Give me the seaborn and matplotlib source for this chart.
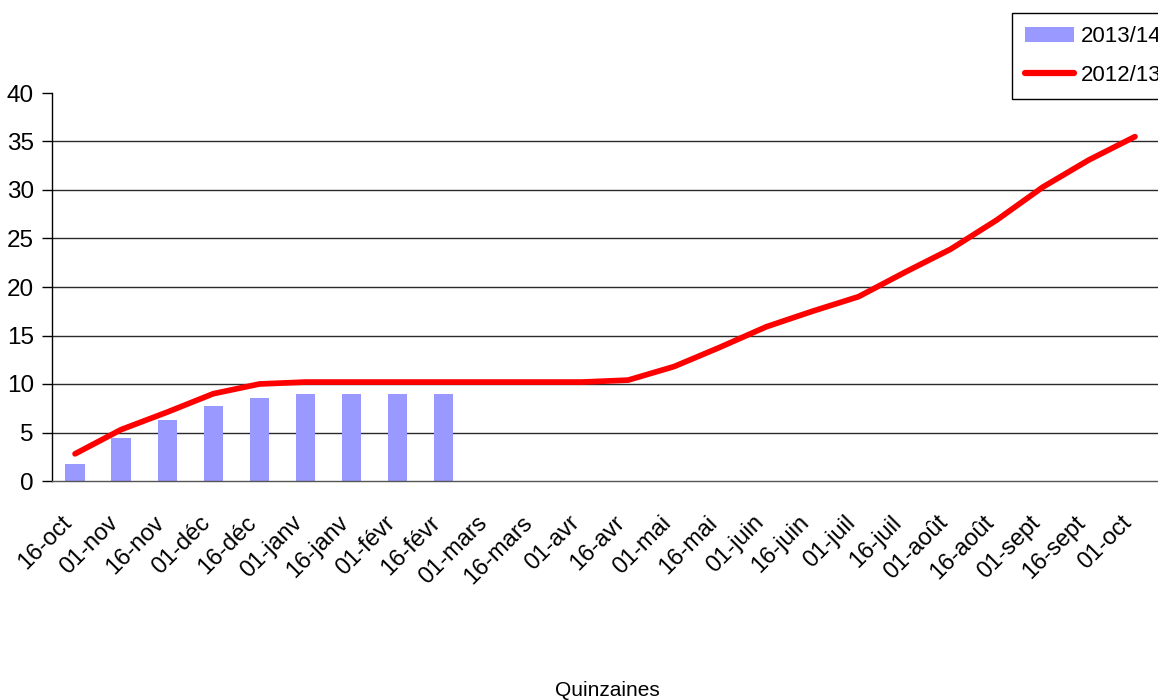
import numpy as np
import pandas as pd
import matplotlib
matplotlib.use("Agg")
import matplotlib.pyplot as plt
import matplotlib.transforms as mtransforms
import seaborn as sns
from matplotlib.lines import Line2D
from matplotlib.patches import Patch

categories = ["16-oct", "01-nov", "16-nov", "01-déc", "16-déc", "01-janv", "16-janv",
              "01-févr", "16-févr", "01-mars", "16-mars", "01-avr", "16-avr", "01-mai",
              "16-mai", "01-juin", "16-juin", "01-juil", "16-juil", "01-août", "16-août",
              "01-sept", "16-sept", "01-oct"]
bars_2013_14 = [1.8, 4.4, 6.3, 7.7, 8.6, 9.0, 9.0, 9.0, 9.0]
line_2012_13 = [2.8, 5.3, 7.1, 9.0, 10.0, 10.2, 10.2, 10.2, 10.2, 10.2, 10.2, 10.2,
                10.4, 11.8, 13.8, 15.9, 17.5, 19.0, 21.5, 23.9, 26.9, 30.3, 33.1, 35.5]
yticks = [0, 5, 10, 15, 20, 25, 30, 35, 40]

sns.set_style("white")
plt.rcParams["font.family"] = ["Liberation Sans", "DejaVu Sans"]
plt.rcParams["text.color"] = "black"
plt.rcParams["xtick.labelcolor"] = "black"
plt.rcParams["ytick.labelcolor"] = "black"

fig = plt.figure(figsize=(11.58, 7.0), dpi=100)
ax = fig.add_axes([52 / 1158, 1 - 481 / 700, 1 - 52 / 1158, (481 - 93) / 700])

bar_df = pd.DataFrame({"cat": categories[:len(bars_2013_14)], "val": bars_2013_14})
sns.barplot(data=bar_df, x="cat", y="val", order=categories, color="#9999FF",
            saturation=1, width=0.42, ax=ax, edgecolor="none", linewidth=0)

line_df = pd.DataFrame({"pos": np.arange(len(categories)), "val": line_2012_13})
sns.lineplot(data=line_df, x="pos", y="val", color="#FF0000", linewidth=4.1, ax=ax,
             solid_capstyle="round", solid_joinstyle="round")

ax.set_xlim(-0.5, len(categories) - 0.5)
ax.set_ylim(0, 40)
ax.set_yticks(yticks)
ax.set_yticklabels([str(v) for v in yticks])
for v in yticks[1:-1]:
    ax.axhline(v, color="#2a2a2a", linewidth=1.0, zorder=0)

ax.set_xticks(np.arange(len(categories)))
ax.set_xticklabels(categories, rotation=45, ha="right", rotation_mode="anchor")
ax.set_xticks(np.arange(len(categories) + 1) - 0.5, minor=True)
ax.tick_params(axis="x", which="major", length=0, pad=22, labelsize=17)
ax.tick_params(axis="x", which="minor", length=7, width=1, color="#555555", direction="out")
ax.tick_params(axis="y", which="major", length=7, width=1, color="black", direction="out",
               pad=6, labelsize=17.5, left=True)
offset = mtransforms.ScaledTranslation(-14 / 100, 0, fig.dpi_scale_trans)
for lab in ax.get_xticklabels():
    lab.set_transform(lab.get_transform() + offset)

for s in ["top", "right"]:
    ax.spines[s].set_visible(False)
ax.spines["left"].set_color("black")
ax.spines["left"].set_linewidth(1.0)
ax.spines["bottom"].set_color("#555555")
ax.spines["bottom"].set_linewidth(1.0)
ax.set_xlabel("")
ax.set_ylabel("")

fig.text(607 / 1158, 1 - 690 / 700, "Quinzaines", ha="center", va="center", fontsize=15)

handles = [Patch(facecolor="#9999FF", edgecolor="none", label="2013/14"),
           Line2D([0], [0], color="#FF0000", linewidth=4.5, solid_capstyle="round", label="2012/13")]
leg = fig.legend(handles=handles, loc="upper left", bbox_to_anchor=(1012 / 1158, 1 - 13 / 700),
                 fontsize=16, frameon=True, fancybox=False, framealpha=1,
                 edgecolor="black", handlelength=2.2, handleheight=0.68,
                 borderpad=0.6, labelspacing=0.8, handletextpad=0.3, borderaxespad=0)
leg.get_frame().set_linewidth(1.0)

fig.savefig("out.png", dpi=100)
